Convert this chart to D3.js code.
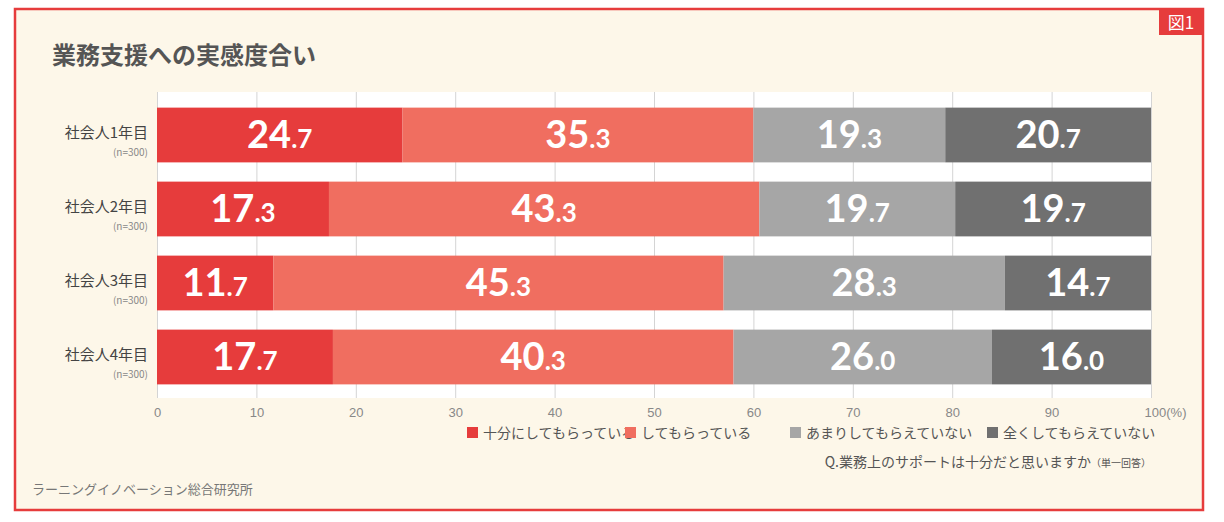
<!DOCTYPE html>
<html><head><meta charset="utf-8">
<script src="https://cdn.jsdelivr.net/npm/d3@7"></script>
<style>body{margin:0;background:#fff;font-family:"Noto Sans CJK JP","Noto Sans",sans-serif}</style>
</head><body><div id="chart"></div>
<script>
const categories = ['社会人1年目', '社会人2年目', '社会人3年目', '社会人4年目'];
const seriesNames = ['十分にしてもらっている', 'してもらっている', 'あまりしてもらえていない', '全くしてもらえていない'];
const seriesColors = ['#e63c3c', '#f06e60', '#a6a6a6', '#707070'];
const values = [
	[24.7, 35.3, 19.3, 20.7],
	[17.3, 43.3, 19.7, 19.7],
	[11.7, 45.3, 28.3, 14.7],
	[17.7, 40.3, 26.0, 16.0]
];
const ticks = [0, 10, 20, 30, 40, 50, 60, 70, 80, 90, 100];

const W = 1224, H = 522;
const svg = d3.select('#chart').append('svg').attr('width', W).attr('height', H);

// Frame
svg.append('rect').attr('x', 15).attr('y', 9).attr('width', 1188).attr('height', 501)
	.attr('fill', '#fdf7e9').attr('stroke', '#e63c3c').attr('stroke-width', 2.5);
svg.append('rect').attr('x', 1159).attr('y', 9).attr('width', 44).attr('height', 26).attr('fill', '#e63c3c');
svg.append('text').attr('x', 1181).attr('y', 29).attr('text-anchor', 'middle')
	.attr('fill', '#fff').attr('font-size', 17).text('図1');

svg.append('text').attr('x', 52).attr('y', 64).attr('font-size', 24).attr('font-weight', 700)
	.attr('fill', '#555').text('業務支援への実感度合い');

const x = d3.scaleLinear().domain([0, 100]).range([157, 1151]);
const y = d3.scaleBand().domain(categories).range([98, 394]).paddingInner(0.26).paddingOuter(0.13);

svg.append('rect').attr('x', x(0)).attr('y', 92).attr('width', x(100) - x(0)).attr('height', 306).attr('fill', '#fff');

const axis = d3.axisBottom(x).tickValues(ticks).tickSize(306)
	.tickFormat(d => d === 100 ? '100(%)' : d);
const ag = svg.append('g').attr('transform', 'translate(0,92)').call(axis);
ag.select('.domain').remove();
ag.selectAll('line').attr('stroke', '#d4d4d4');
ag.selectAll('text').attr('fill', '#888').attr('font-size', 13).attr('dy', '1.2em');
ag.selectAll('.tick').filter(d => d === 100).select('text').attr('dx', 14);

const rows = svg.selectAll('.row').data(categories).join('g').attr('class', 'row');
rows.each(function(c, i) {
	const g = d3.select(this);
	let acc = 0;
	values[i].forEach((v, j) => {
		const x0 = acc;
		acc += v;
		g.append('rect').attr('x', x(x0)).attr('y', y(c)).attr('width', x(acc) - x(x0))
			.attr('height', y.bandwidth()).attr('fill', seriesColors[j]);
		const [ip, dp] = v.toFixed(1).split('.');
		const t = g.append('text').attr('x', x(x0 + v / 2)).attr('y', y(c) + y.bandwidth() / 2 + 13)
			.attr('text-anchor', 'middle').attr('fill', '#fff').attr('font-weight', 700)
			.attr('font-family', 'Lato, "Noto Sans", sans-serif');
		t.append('tspan').attr('font-size', 38).text(ip);
		t.append('tspan').attr('font-size', 26).text('.' + dp);
	});
	g.append('text').attr('x', 148).attr('y', y(c) + y.bandwidth() / 2 + 3).attr('text-anchor', 'end')
		.attr('font-size', 15).attr('fill', '#444').text(c);
	g.append('text').attr('x', 148).attr('y', y(c) + y.bandwidth() / 2 + 21).attr('text-anchor', 'end')
		.attr('font-size', 10).attr('fill', '#888').text('(n=300)');
});

// Legend
const legX = [467, 625, 790, 987];
const lg = svg.selectAll('.leg').data(seriesNames).join('g').attr('class', 'leg')
	.attr('transform', (d, i) => `translate(${legX[i]},438)`);
lg.append('rect').attr('x', 0).attr('y', -11).attr('width', 11).attr('height', 11)
	.attr('fill', (d, i) => seriesColors[i]);
lg.append('text').attr('x', 16).attr('y', 0).attr('font-size', 14).attr('fill', '#555').text(d => d);

const q = svg.append('text').attr('x', 1151).attr('y', 467).attr('text-anchor', 'end')
	.attr('font-size', 14).attr('fill', '#555');
q.append('tspan').text('Q.業務上のサポートは十分だと思いますか');
q.append('tspan').attr('font-size', 10).text('（単一回答）');

svg.append('text').attr('x', 32).attr('y', 494).attr('font-size', 13).attr('fill', '#777')
	.text('ラーニングイノベーション総合研究所');
</script></body></html>
